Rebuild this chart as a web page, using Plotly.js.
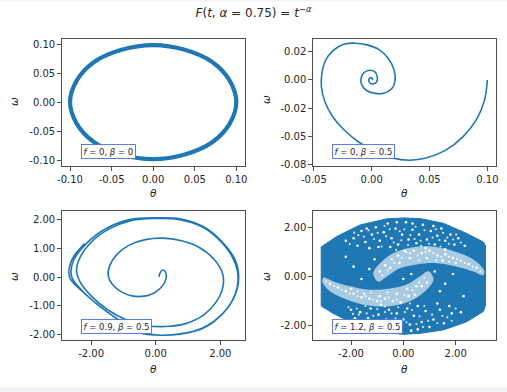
<!DOCTYPE html>
<html><head><meta charset="utf-8">
<script src="https://cdn.plot.ly/plotly-3.0.1.min.js"></script>
<style>html,body{margin:0;padding:0;background:#fff;}#chart{width:507px;height:392px;}</style>
</head><body><div id="chart"></div>
<script>
// Panel 1: f=0, beta=0 (theta, omega)
const p1Theta = [0.100,0.092,0.071,0.038,0.000,-0.038,-0.071,-0.092,-0.100,-0.092,-0.071,-0.038,0.000,0.038,0.071,0.092,0.100];
const p1Omega = [0.000,-0.037,-0.069,-0.090,-0.098,-0.090,-0.069,-0.037,0.000,0.037,0.069,0.090,0.098,0.090,0.069,0.037,0.000];
// Panel 2: f=0, beta=0.5
const p2Theta = [0.1000,0.0975,0.0905,0.0790,0.0640,0.0470,0.0330,0.0180,0.0030,-0.0110,-0.0240,-0.0340,-0.0405,-0.0435,-0.0430,-0.0400,-0.0335,-0.0240,-0.0140,-0.0040,0.0060,0.0140,0.0190,0.0203,0.0175,0.0105,0.0030,-0.0040,-0.0085,-0.0092,-0.0065,-0.0015,0.0028,0.0048,0.0044,0.0016,-0.0013,-0.0026,-0.0016,0.0004,0.0008];
const p2Omega = [0.0000,-0.0180,-0.0350,-0.0500,-0.0620,-0.0690,-0.0709,-0.0690,-0.0630,-0.0550,-0.0440,-0.0320,-0.0190,-0.0060,0.0060,0.0170,0.0260,0.0315,0.0325,0.0310,0.0270,0.0195,0.0100,0.0000,-0.0075,-0.0117,-0.0118,-0.0095,-0.0045,0.0015,0.0066,0.0086,0.0072,0.0030,-0.0014,-0.0034,-0.0030,-0.0003,0.0019,0.0016,0.0000];
// Panel 3: f=0.9, beta=0.5
const p3Theta = [0.10,0.14,0.22,0.30,0.33,0.28,0.15,-0.05,-0.35,-0.70,-1.05,-1.33,-1.47,-1.42,-1.20,-0.82,-0.32,0.22,0.80,1.35,1.80,2.07,2.08,1.88,1.50,0.95,0.30,-0.30,-0.90,-1.50,-2.00,-2.35,-2.45,-2.33,-2.00,-1.45,-0.75,0.00,0.75,1.45,2.05,2.42,2.55,2.45,2.08,1.45,0.72,0.00,-0.55,-1.15,-1.75,-2.25,-2.60,-2.55,-2.15,-1.52,-0.80,0.00,0.75,1.47,2.09,2.46,2.57,2.46,2.09,1.47,0.75,0.03,-0.52,-1.12,-1.72,-2.26,-2.67,-2.60,-2.20];
const p3Omega = [0.00,0.15,0.24,0.18,0.02,-0.18,-0.38,-0.55,-0.66,-0.66,-0.52,-0.27,0.05,0.40,0.78,1.10,1.29,1.34,1.25,1.02,0.62,0.12,-0.35,-0.85,-1.30,-1.60,-1.71,-1.67,-1.48,-1.12,-0.65,-0.15,0.25,0.70,1.20,1.65,1.95,2.02,1.98,1.72,1.18,0.58,0.00,-0.62,-1.25,-1.76,-1.97,-2.00,-1.90,-1.48,-1.00,-0.50,0.00,0.55,1.15,1.68,1.98,2.04,2.01,1.74,1.17,0.59,0.00,-0.62,-1.25,-1.77,-1.97,-2.00,-1.91,-1.50,-1.02,-0.51,0.00,0.58,1.15];
// Panel 4: f=1.2, beta=0.5 - outline of the point cloud, its sparse bands and white gaps
const p4EnvTheta = [-3.14,-2.55,-1.66,-0.64,0.00,0.64,1.53,2.42,3.06,3.14,3.14,3.06,2.42,1.53,0.64,0.00,-1.02,-1.91,-2.68,-3.10,-3.14,-3.14];
const p4EnvOmega = [1.20,1.62,2.09,2.34,2.38,2.35,2.16,1.75,1.40,1.25,-1.18,-1.42,-1.84,-2.17,-2.31,-2.35,-2.24,-1.90,-1.50,-1.25,-1.20,1.20];
const p4GapUTheta = [-1.15,-0.83,-0.25,0.51,1.40,2.17,2.80,3.10,3.05,2.68,2.04,1.27,0.51,-0.13,-0.64,-0.96,-1.15];
const p4GapUOmega = [0.13,0.60,1.01,1.21,1.17,0.94,0.60,0.20,0.05,0.20,0.40,0.54,0.49,0.33,-0.01,-0.21,0.13];
const p4GapLTheta = [1.15,0.83,0.25,-0.51,-1.40,-2.17,-2.80,-3.10,-3.05,-2.68,-2.04,-1.27,-0.51,0.13,0.64,0.96,1.15];
const p4GapLOmega = [-0.13,-0.60,-1.01,-1.21,-1.17,-0.94,-0.60,-0.20,-0.05,-0.20,-0.40,-0.54,-0.49,-0.33,0.01,0.21,-0.13];
// larger white holes in the cloud
const p4HoleTheta = [-1.9,-1.6,-1.45,-1.2,-1.05,-0.9,-0.75,-0.6,-0.45,-0.3,-0.2,-0.05,0.1,0.2,0.35,0.5,0.6,0.75,0.9,1.05,1.2,1.3,1.45,1.6,1.8,1.95,2.1,-1.75,-1.3,-0.5,0.05,0.85,1.6,-2.2,2.35,-0.95,0.35,-0.25,1.15,-1.4,
  1.85,1.55,1.4,1.15,1.0,0.85,0.7,0.55,0.4,0.25,0.15,0.0,-0.15,-0.25,-0.4,-0.55,-0.65,-0.8,-0.95,-1.1,-1.25,-1.35,-1.5,-1.65,-1.85,-2.0,1.75,1.3,0.55,-0.1,-0.85,2.2,-0.35,0.3,-1.1,
  -0.9,-0.7,-0.45,-0.2,0.1,0.4,0.7,1.0,1.3,1.6,1.9,2.2,2.5,2.8,0.25,0.9,1.5,-0.5,-0.15,2.0,
  0.9,0.7,0.45,0.2,-0.1,-0.4,-0.7,-1.0,-1.3,-1.6,-1.9,-2.2,-2.5,-2.8,-0.25,-0.9,-1.5,0.5,0.15,-2.0,
  -1.6,-1.3,-1.9,0.3,0.0,1.2,1.6,1.9,-2.2,2.3,1.4,-1.1];
const p4HoleOmega = [1.55,1.85,1.4,1.7,2.0,1.45,1.8,2.15,1.55,1.95,1.3,1.7,2.2,1.5,1.9,1.35,1.7,2.1,1.5,1.85,1.3,1.65,1.95,1.45,1.7,1.3,1.55,1.25,1.15,1.2,1.05,1.15,1.1,1.45,1.25,1.2,2.15,2.2,2.05,1.95,
  -1.5,-1.9,-1.35,-1.75,-2.05,-1.4,-1.85,-2.15,-1.6,-1.95,-1.3,-1.75,-2.2,-1.5,-1.9,-1.35,-1.75,-2.1,-1.55,-1.85,-1.3,-1.7,-1.95,-1.45,-1.7,-1.35,-1.2,-1.1,-1.2,-1.05,-1.15,-1.45,-2.25,-2.2,-2.05,
  0.2,0.45,0.7,0.85,1.0,1.05,0.95,1.05,0.85,0.9,0.75,0.65,0.5,0.35,0.75,0.75,0.65,0.35,0.55,0.55,
  -0.25,-0.4,-0.75,-0.8,-1.05,-1.0,-0.9,-1.0,-0.9,-0.85,-0.7,-0.6,-0.45,-0.3,-0.7,-0.8,-0.7,-0.4,-0.5,-0.5,
  -0.1,0.3,0.4,0.1,-0.1,0.2,-0.3,0.1,0.8,-0.8,-0.6,0.7];
// smaller white holes in the cloud
const p4SpeckTheta = [-1.72,-1.51,-1.33,-1.12,-0.98,-0.83,-0.66,-0.52,-0.37,-0.14,-0.08,0.04,0.27,0.43,0.47,0.66,0.81,0.98,1.12,1.24,1.38,1.52,1.68,1.74,1.9,2.02,2.2,-2.05,-1.88,-0.28,0.68,1.42,-0.72,0.18,
  1.68,1.49,1.3,1.1,0.95,0.8,0.62,0.5,0.33,0.12,0.06,-0.06,-0.3,-0.45,-0.5,-0.7,-0.85,-1.0,-1.15,-1.28,-1.4,-1.55,-1.7,-1.78,-1.93,-2.1,2.0,1.85,0.25,-0.7,-1.45,0.75,-0.2,
  -0.8,-0.6,-0.35,-0.05,0.25,0.55,0.85,1.15,1.45,1.75,2.05,2.35,2.65,2.95,0.6,1.25,1.75,
  0.8,0.6,0.35,0.05,-0.25,-0.55,-0.85,-1.15,-1.45,-1.75,-2.05,-2.35,-2.65,-2.95,-0.6,-1.25,-1.75];
const p4SpeckOmega = [1.68,1.62,1.88,1.52,1.77,1.22,1.63,1.92,1.38,1.84,1.47,1.92,1.68,1.52,2.02,1.45,1.88,1.33,1.58,1.92,1.48,1.77,1.58,1.33,1.5,1.7,1.38,1.32,1.78,1.08,1.25,1.22,2.05,1.28,
  -1.66,-1.6,-1.9,-1.55,-1.8,-1.2,-1.62,-1.93,-1.36,-1.86,-1.45,-1.95,-1.7,-1.5,-2.03,-1.45,-1.9,-1.32,-1.6,-1.93,-1.5,-1.78,-1.55,-1.3,-1.52,-1.25,-1.3,-1.8,-1.1,-1.22,-1.2,-2.05,-1.25,
  0.05,0.25,0.55,0.75,0.95,0.85,1.0,0.95,0.8,0.8,0.7,0.55,0.4,0.2,0.65,0.65,0.6,
  -0.05,-0.25,-0.55,-0.75,-0.95,-0.85,-1.0,-0.95,-0.8,-0.8,-0.7,-0.55,-0.4,-0.2,-0.65,-0.65,-0.6];
// Tick labels
const p1Ticks = [-0.10,-0.05,0.00,0.05,0.10];
const p1TickText = ['-0.10','-0.05','0.00','0.05','0.10'];
const p2XTicks = [-0.05,0.00,0.05,0.10];
const p2XTickText = ['-0.05','0.00','0.05','0.10'];
const p2YTicks = [0.025,0.0,-0.025,-0.05,-0.075];
const p2YTickText = ['0.02','0.00','-0.02','-0.05','-0.08'];
const p3XTicks = [-2,0,2];
const p3XTickText = ['-2.00','0.00','2.00'];
const p3YTicks = [2,1,0,-1,-2];
const p3YTickText = ['2.00','1.00','0.00','-1.00','-2.00'];
const p4Ticks = [-2,0,2];
const p4TickText = ['-2.00','0.00','2.00'];
const panelLabels = ['<i>f</i> = 0, <i>β</i> = 0','<i>f</i> = 0, <i>β</i> = 0.5','<i>f</i> = 0.9, <i>β</i> = 0.5','<i>f</i> = 1.2, <i>β</i> = 0.5'];

const BLUE = '#1f77b4';
const FONT = 'DejaVu Sans';
function axis(domain, range, vals, text, anchor){
  return {domain:domain, range:range, tickmode:'array', tickvals:vals, ticktext:text,
    showline:true, mirror:true, linecolor:'#4d4d4d', linewidth:1, ticks:'outside', ticklen:3.5,
    tickwidth:1, tickcolor:'#4d4d4d', showgrid:false, zeroline:false, anchor:anchor, fixedrange:true,
    tickfont:{family:FONT, size:10, color:'#262626'}};
}
const LX=[0.1217,0.4842], RX=[0.6170,0.9777], TY=[0.5765,0.9005], BY=[0.1314,0.4605];
const data = [
  {x:p1Theta, y:p1Omega, mode:'lines', line:{color:BLUE, width:4.2, shape:'spline', smoothing:1}, xaxis:'x', yaxis:'y', hoverinfo:'skip'},
  {x:p2Theta, y:p2Omega, mode:'lines', line:{color:BLUE, width:1.6, shape:'spline', smoothing:1}, xaxis:'x2', yaxis:'y2', hoverinfo:'skip'},
  {x:p3Theta, y:p3Omega, mode:'lines', line:{color:BLUE, width:1.6, shape:'spline', smoothing:1}, xaxis:'x3', yaxis:'y3', hoverinfo:'skip'},
  {x:p4EnvTheta, y:p4EnvOmega, mode:'lines', fill:'toself', fillcolor:BLUE, line:{color:BLUE, width:1}, xaxis:'x4', yaxis:'y4', hoverinfo:'skip'},
  {x:p4GapUTheta, y:p4GapUOmega, mode:'lines', fill:'toself', fillcolor:'rgba(255,255,255,0.62)', line:{width:0, shape:'spline'}, xaxis:'x4', yaxis:'y4', hoverinfo:'skip'},
  {x:p4GapLTheta, y:p4GapLOmega, mode:'lines', fill:'toself', fillcolor:'rgba(255,255,255,0.62)', line:{width:0, shape:'spline'}, xaxis:'x4', yaxis:'y4', hoverinfo:'skip'},
  {x:p4HoleTheta, y:p4HoleOmega, mode:'markers', marker:{color:'#fff', size:2.6, line:{width:0}}, xaxis:'x4', yaxis:'y4', hoverinfo:'skip'},
  {x:p4SpeckTheta, y:p4SpeckOmega, mode:'markers', marker:{color:'rgba(255,255,255,0.85)', size:2.1, line:{width:0}}, xaxis:'x4', yaxis:'y4', hoverinfo:'skip'}
];
function lab(i, xr, yr){
  return {text:panelLabels[i], xref:xr+' domain', yref:yr+' domain', x:0.105, y:0.053, xanchor:'left', yanchor:'bottom',
    showarrow:false, bgcolor:'#fff', bordercolor:'rgba(65,105,225,0.85)', borderwidth:1, borderpad:1.5,
    font:{family:FONT, size:8.5, color:'#262626'}};
}
function atitle(text, x, y, ang){
  return {text:text, xref:'paper', yref:'paper', x:x, y:y, xanchor:'center', yanchor:'middle', showarrow:false,
    textangle:ang, font:{family:FONT, size:10.5, color:'#262626'}};
}
const layout = {
  width:507, height:392, margin:{l:0,r:0,t:0,b:0}, paper_bgcolor:'#fff', plot_bgcolor:'#fff', showlegend:false,
  title:{text:'<i>F</i>(<i>t</i>, <i>α</i> = 0.75) = <i>t</i><sup>−<i>α</i></sup>', x:0.5, xref:'paper', xanchor:'center', y:1-13/392, yref:'paper', yanchor:'middle', font:{family:FONT, size:12, color:'#262626'}},
  xaxis: axis(LX, [-0.110,0.111], p1Ticks, p1TickText, 'y'),
  yaxis: axis(TY, [-0.110,0.1086], p1Ticks, p1TickText, 'x'),
  xaxis2: axis(RX, [-0.0509,0.1072], p2XTicks, p2XTickText, 'y2'),
  yaxis2: axis(TY, [-0.076,0.0362], p2YTicks, p2YTickText, 'x2'),
  xaxis3: axis(LX, [-2.91,2.78], p3XTicks, p3XTickText, 'y3'),
  yaxis3: axis(BY, [-2.19,2.26], p3YTicks, p3YTickText, 'x3'),
  xaxis4: axis(RX, [-3.46,3.53], p4Ticks, p4TickText, 'y4'),
  yaxis4: axis(BY, [-2.60,2.64], p4Ticks, p4TickText, 'x4'),
  shapes:[
    {type:'rect', xref:'paper', yref:'paper', x0:0, x1:1, y0:0, y1:5.5/392, fillcolor:'#f0f2f6', line:{width:0}, layer:'below'},
    {type:'rect', xref:'paper', yref:'paper', x0:0, x1:1, y0:1-1.5/392, y1:1, fillcolor:'#f0f2f6', line:{width:0}, layer:'below'}
  ],
  annotations:[
    lab(0,'x','y'), lab(1,'x2','y2'), lab(2,'x3','y3'), lab(3,'x4','y4'),
    atitle('<i>θ</i>', 153.6/507, 1-193/392, 0), atitle('<i>θ</i>', 404.2/507, 1-193/392, 0),
    atitle('<i>θ</i>', 153.6/507, 1-369/392, 0), atitle('<i>θ</i>', 404.2/507, 1-369/392, 0),
    atitle('<i>ω</i>', 14/507, 1-102/392, -90), atitle('<i>ω</i>', 266/507, 1-100/392, -90),
    atitle('<i>ω</i>', 14/507, 1-277/392, -90), atitle('<i>ω</i>', 266/507, 1-277/392, -90)
  ]
};
Plotly.newPlot('chart', data, layout, {displayModeBar:false, staticPlot:true});
</script></body></html>
